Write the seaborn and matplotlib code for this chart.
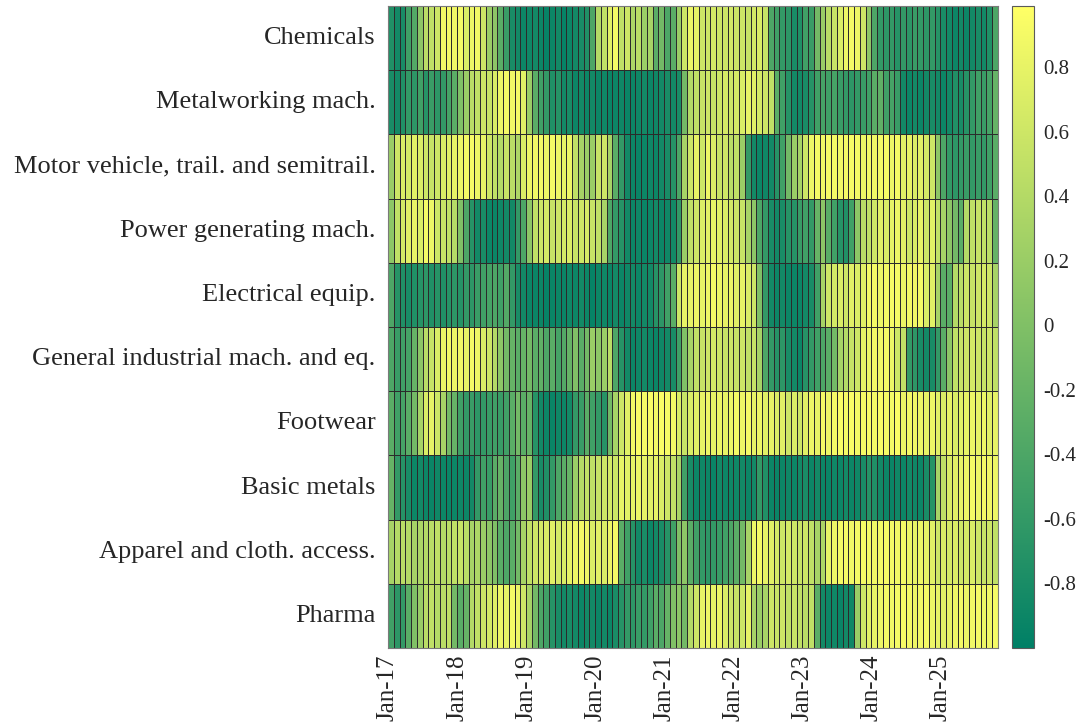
import numpy as np
import pandas as pd
import matplotlib
matplotlib.use("Agg")
import matplotlib.pyplot as plt
import seaborn as sns

# Sectors, top to bottom
sectors = [
    "Chemicals",
    "Metalworking mach.",
    "Motor vehicle, trail. and semitrail.",
    "Power generating mach.",
    "Electrical equip.",
    "General industrial mach. and eq.",
    "Footwear",
    "Basic metals",
    "Apparel and cloth. access.",
    "Pharma",
]

# Monthly values, Jan-2017 .. Oct-2025 (one line per year)
chemicals = [
    -0.75, -0.85, -0.8, -0.5, -0.35, 0.1, 0.45, 0.5, 0.6, 0.9, 0.92, 0.88,
    0.9, 0.7, 0.85, 0.88, 0.6, 0.2, 0.1, -0.3, -0.55, -0.8, -0.85, -0.9,
    -0.88, -0.85, -0.9, -0.95, -0.9, -0.85, -0.95, -0.9, -0.85, -0.8, -0.75, -0.4,
    0.4, 0.5, 0.75, 0.9, 0.5, 0.6, 0.35, 0.45, 0.2, 0.3, -0.3, -0.1,
    -0.4, -0.3, 0.2, 0.6, 0.85, 0.8, 0.6, 0.6, 0.65, 0.6, 0.6, 0.65,
    0.6, 0.6, 0.55, 0.65, 0.7, 0.55, -0.4, -0.5, -0.6, -0.65, -0.8, -0.75,
    -0.5, -0.55, -0.1, 0.2, 0.45, 0.55, 0.7, 0.85, 0.9, 0.85, 0.6, 0.1,
    -0.4, -0.6, -0.65, -0.6, -0.7, -0.6, -0.65, -0.55, -0.6, -0.65, -0.6, -0.7,
    -0.8, -0.85, -0.9, -0.85, -0.9, -0.85, -0.8, -0.85, -0.75, -0.4,
]
metalworking = [
    -0.8, -0.85, -0.75, -0.6, -0.65, -0.5, -0.7, -0.55, -0.65, -0.6, -0.45, -0.3,
    0.0, 0.2, 0.45, 0.5, 0.6, 0.55, 0.7, 0.85, 0.9, 0.88, 0.9, 0.75,
    0.2, -0.3, -0.5, -0.6, -0.75, -0.7, -0.85, -0.8, -0.9, -0.85, -0.9, -0.85,
    -0.9, -0.88, -0.92, -0.9, -0.88, -0.92, -0.9, -0.88, -0.85, -0.9, -0.88, -0.85,
    -0.8, -0.85, -0.8, -0.1, 0.4, 0.5, 0.55, 0.6, 0.55, 0.6, 0.65, 0.6,
    0.65, 0.7, 0.8, 0.75, 0.65, 0.6, 0.5, -0.3, -0.5, -0.7, -0.85, -0.85,
    -0.8, -0.7, -0.5, -0.45, -0.5, -0.45, -0.55, -0.6, -0.65, -0.6, -0.55, -0.5,
    -0.3, -0.25, -0.5, -0.45, -0.55, -0.85, -0.9, -0.85, -0.9, -0.85, -0.8, -0.85,
    -0.9, -0.85, -0.75, -0.8, -0.7, -0.6, -0.5, -0.55, -0.45, -0.2,
]
motor_vehicle = [
    0.2, 0.6, 0.7, 0.65, 0.75, 0.7, 0.6, 0.55, 0.6, 0.7, 0.75, 0.8,
    0.85, 0.9, 0.92, 0.85, 0.8, 0.6, 0.5, 0.4, 0.55, 0.45, 0.35, 0.7,
    0.85, 0.88, 0.9, 0.85, 0.9, 0.85, 0.8, 0.85, 0.5, 0.3, 0.2, 0.2,
    0.55, 0.6, 0.3, -0.3, -0.6, -0.85, -0.9, -0.92, -0.9, -0.88, -0.9, -0.85,
    -0.8, -0.7, -0.4, 0.3, 0.6, 0.8, 0.6, 0.85, 0.7, 0.55, 0.6, 0.45,
    0.5, 0.2, -0.6, -0.85, -0.9, -0.88, -0.85, -0.7, -0.5, -0.1, 0.2, 0.3,
    0.6, 0.85, 0.9, 0.88, 0.92, 0.9, 0.88, 0.9, 0.92, 0.9, 0.85, 0.9,
    0.88, 0.9, 0.92, 0.85, 0.9, 0.75, 0.8, 0.7, 0.75, 0.65, 0.6, 0.1,
    -0.4, -0.6, -0.65, -0.6, -0.55, -0.6, -0.55, -0.6, -0.5, -0.3,
]
power_generating = [
    0.1, 0.5, 0.65, 0.75, 0.8, 0.7, 0.9, 0.85, 0.6, 0.55, 0.5, 0.4,
    0.0, -0.4, -0.7, -0.85, -0.8, -0.9, -0.92, -0.88, -0.85, -0.85, -0.6, -0.4,
    0.1, 0.5, 0.6, 0.65, 0.55, 0.6, 0.65, 0.7, 0.55, 0.6, 0.65, 0.55,
    0.5, 0.3, -0.4, -0.6, -0.7, -0.85, -0.9, -0.88, -0.92, -0.9, -0.85, -0.9,
    -0.88, -0.85, -0.6, 0.2, 0.5, 0.6, 0.7, 0.75, 0.8, 0.75, 0.7, 0.65,
    0.6, 0.55, 0.3, 0.1, -0.4, -0.6, -0.8, -0.85, -0.8, -0.7, -0.7, -0.55,
    -0.5, -0.6, -0.2, 0.1, -0.3, -0.5, -0.7, -0.75, -0.5, 0.1, 0.45, 0.5,
    0.6, 0.75, 0.7, 0.8, 0.85, 0.75, 0.6, 0.7, 0.8, 0.6, 0.75, 0.5,
    0.3, 0.1, -0.1, -0.3, 0.4, 0.5, 0.55, 0.5, 0.45, -0.2,
]
electrical = [
    -0.4, -0.7, -0.75, -0.8, -0.75, -0.7, -0.65, -0.75, -0.7, -0.75, -0.7, -0.65,
    -0.7, -0.6, -0.65, -0.55, -0.5, -0.45, -0.4, -0.5, -0.35, -0.6, -0.8, -0.85,
    -0.9, -0.92, -0.9, -0.95, -0.92, -0.9, -0.92, -0.88, -0.9, -0.85, -0.9, -0.95,
    -0.9, -0.88, -0.92, -0.85, -0.9, -0.88, -0.85, -0.9, -0.85, -0.85, -0.7, -0.65,
    -0.5, -0.3, 0.6, 0.8, 0.8, 0.85, 0.8, 0.85, 0.9, 0.85, 0.8, 0.85,
    0.75, 0.8, 0.7, 0.6, 0.0, -0.6, -0.85, -0.9, -0.85, -0.9, -0.9, -0.9,
    -0.85, -0.8, -0.5, 0.3, 0.6, 0.65, 0.7, 0.6, 0.75, 0.7, 0.75, 0.9,
    0.9, 0.85, 0.9, 0.92, 0.9, 0.85, 0.9, 0.88, 0.9, 0.7, 0.75, 0.3,
    -0.3, -0.3, 0.4, 0.45, 0.6, 0.55, 0.6, 0.65, 0.6, 0.3,
]
general_industrial = [
    -0.4, -0.55, -0.5, -0.45, -0.2, 0.1, 0.45, 0.55, 0.7, 0.85, 0.9, 0.85,
    0.88, 0.8, 0.9, 0.85, 0.7, 0.6, 0.4, 0.1, -0.1, -0.2, -0.3, -0.2,
    -0.1, -0.3, -0.25, -0.4, -0.3, -0.45, -0.35, -0.2, 0.0, -0.3, -0.1, 0.2,
    0.1, 0.2, 0.45, -0.4, -0.7, -0.85, -0.9, -0.88, -0.85, -0.9, -0.92, -0.88,
    -0.85, -0.8, -0.5, 0.0, 0.3, 0.5, 0.55, 0.6, 0.65, 0.6, 0.55, 0.6,
    0.55, 0.6, 0.5, 0.55, 0.3, -0.4, -0.6, -0.7, -0.65, -0.8, -0.85, -0.9,
    -0.7, -0.6, -0.5, -0.4, -0.3, -0.1, 0.3, 0.4, 0.55, 0.6, 0.8, 0.85,
    0.9, 0.88, 0.9, 0.85, 0.6, 0.5, -0.6, -0.65, -0.8, -0.85, -0.8, -0.6,
    -0.3, 0.1, 0.5, 0.55, 0.6, 0.65, 0.6, 0.55, 0.6, 0.5,
]
footwear = [
    -0.3, -0.5, -0.45, -0.3, -0.1, 0.3, 0.7, 0.8, 0.6, 0.3, -0.1, -0.2,
    -0.5, -0.6, -0.55, -0.65, -0.6, -0.55, -0.5, -0.55, -0.5, -0.3, -0.1, -0.3,
    -0.2, -0.7, -0.85, -0.9, -0.92, -0.88, -0.9, -0.85, -0.6, -0.55, -0.3, -0.5,
    -0.6, -0.7, -0.1, 0.3, 0.6, 0.75, 0.9, 0.95, 0.92, 0.95, 0.9, 0.95,
    0.92, 0.9, 0.7, 0.55, 0.7, 0.75, 0.8, 0.85, 0.8, 0.85, 0.8, 0.85,
    0.9, 0.85, 0.9, 0.8, 0.85, 0.75, 0.8, 0.7, 0.75, 0.6, 0.7, 0.6,
    0.75, 0.85, 0.8, 0.9, 0.85, 0.9, 0.95, 0.92, 0.95, 0.9, 0.92, 0.95,
    0.9, 0.95, 0.92, 0.9, 0.95, 0.85, 0.9, 0.88, 0.85, 0.8, 0.85, 0.75,
    0.7, 0.8, 0.7, 0.75, 0.8, 0.85, 0.8, 0.85, 0.75, 0.8,
]
basic_metals = [
    -0.2, -0.6, -0.7, -0.8, -0.9, -0.85, -0.9, -0.92, -0.88, -0.9, -0.92, -0.9,
    -0.88, -0.9, -0.85, -0.6, -0.5, -0.55, -0.3, -0.2, -0.4, -0.5, -0.3, 0.1,
    0.2, -0.6, -0.8, -0.75, -0.6, -0.4, -0.3, -0.2, 0.2, 0.4, 0.5, 0.5,
    0.55, 0.6, 0.65, 0.6, 0.8, 0.75, 0.8, 0.85, 0.8, 0.75, 0.8, 0.7,
    0.6, 0.5, 0.3, -0.5, -0.8, -0.9, -0.88, -0.9, -0.92, -0.85, -0.9, -0.88,
    -0.88, -0.85, -0.9, -0.85, -0.6, -0.75, -0.9, -0.92, -0.9, -0.88, -0.9, -0.85,
    -0.8, -0.9, -0.85, -0.9, -0.92, -0.88, -0.9, -0.85, -0.9, -0.88, -0.8, -0.7,
    -0.75, -0.85, -0.9, -0.92, -0.88, -0.9, -0.85, -0.88, -0.9, -0.8, -0.7, 0.3,
    0.5, 0.7, 0.75, 0.8, 0.85, 0.9, 0.85, 0.9, 0.88, 0.85,
]
apparel = [
    0.3, 0.4, 0.45, 0.4, 0.3, 0.35, 0.4, 0.45, 0.5, 0.4, 0.45, 0.5,
    0.55, 0.45, 0.3, 0.35, 0.2, 0.1, 0.0, -0.3, -0.4, -0.3, -0.1, 0.3,
    0.5, 0.6, 0.65, 0.7, 0.75, 0.65, 0.7, 0.8, 0.85, 0.9, 0.85, 0.7,
    0.75, 0.7, 0.85, 0.9, -0.3, -0.5, -0.7, -0.85, -0.8, -0.9, -0.85, -0.8,
    -0.7, -0.5, 0.0, 0.1, -0.3, -0.5, -0.6, -0.65, -0.6, -0.55, -0.5, -0.4,
    -0.3, -0.1, 0.3, 0.85, 0.9, 0.8, 0.75, 0.65, 0.6, 0.65, 0.6, 0.55,
    0.6, 0.5, 0.3, 0.35, 0.8, 0.85, 0.9, 0.92, 0.88, 0.9, 0.92, 0.9,
    0.88, 0.9, 0.92, 0.9, 0.88, 0.9, 0.85, 0.8, 0.85, 0.8, 0.75, 0.6,
    0.7, 0.65, 0.7, 0.6, 0.65, 0.7, 0.6, 0.55, 0.6, 0.5,
]
pharma = [
    -0.5, -0.65, -0.6, -0.3, 0.0, 0.2, 0.45, 0.5, 0.4, 0.45, 0.5, -0.1,
    -0.3, -0.2, 0.4, 0.5, 0.6, 0.65, 0.75, 0.85, 0.8, 0.9, 0.85, 0.6,
    0.3, -0.1, -0.4, -0.5, -0.7, -0.8, -0.85, -0.8, -0.85, -0.9, -0.85, -0.85,
    -0.9, -0.85, -0.9, -0.8, -0.7, -0.6, -0.65, -0.55, -0.6, -0.5, -0.3, -0.4,
    -0.2, 0.0, 0.1, -0.1, 0.4, 0.6, 0.8, 0.85, 0.8, 0.85, 0.7, 0.6,
    0.55, 0.6, 0.8, 0.3, 0.2, 0.3, 0.6, 0.55, 0.6, 0.5, 0.55, 0.5,
    0.45, 0.5, -0.3, -0.85, -0.9, -0.88, -0.92, -0.85, -0.88, 0.2, 0.6, 0.75,
    0.8, 0.85, 0.9, 0.88, 0.9, 0.92, 0.9, 0.85, 0.88, 0.9, 0.85, 0.8,
    0.75, 0.8, 0.85, 0.9, 0.85, 0.88, 0.9, 0.85, 0.88, 0.9,
]

months = pd.date_range("2017-01-01", periods=len(chemicals), freq="MS")
tick_labels = ["Jan-17", "Jan-18", "Jan-19", "Jan-20", "Jan-21",
               "Jan-22", "Jan-23", "Jan-24", "Jan-25"]
cbar_ticks = [-0.8, -0.6, -0.4, -0.2, 0, 0.2, 0.4, 0.6, 0.8]

sns.set_theme(style="white")
plt.rcParams["font.family"] = ["Liberation Serif", "DejaVu Serif"]
plt.rcParams["axes.unicode_minus"] = False

df = pd.DataFrame(
    [chemicals, metalworking, motor_vehicle, power_generating, electrical,
     general_industrial, footwear, basic_metals, apparel, pharma],
    index=sectors,
    columns=months.strftime("%b-%y"),
)

W, H = 1084, 723
fig = plt.figure(figsize=(W / 100, H / 100), dpi=100)
ax = fig.add_axes([388 / W, 1 - 648 / H, 610 / W, 642 / H])
cax = fig.add_axes([1012 / W, 1 - 648 / H, 22 / W, 642 / H])

sns.heatmap(
    df, ax=ax, cbar_ax=cax, cmap="summer", vmin=-1.0, vmax=0.99,
    linewidths=0.7, linecolor="#2b2b2b",
)

# Year ticks at the first month of each year
tick_pos = [list(df.columns).index(lbl) for lbl in tick_labels]
ax.set_xticks(tick_pos)
ax.set_xticklabels(tick_labels, rotation=90, fontsize=18, color="#262626")
ax.set_yticks(np.arange(len(sectors)) + 0.5)
ax.set_yticklabels(sectors, rotation=0, fontsize=19, color="#262626")
ax.tick_params(axis="both", length=0)
ax.tick_params(axis="x", pad=5)
ax.tick_params(axis="y", pad=9)
for sp in ax.spines.values():
    sp.set_visible(True)
    sp.set_color("#7a7a7a")
    sp.set_linewidth(0.8)

cbar = ax.collections[0].colorbar
cbar.set_ticks(cbar_ticks)
cbar.set_ticklabels([f"{t:g}" for t in cbar_ticks])
cbar.outline.set_visible(True)
cbar.outline.set_linewidth(0.8)
cbar.outline.set_edgecolor("#5a5a5a")
cax.tick_params(direction="in", length=5, width=0.8, color="#333333",
                labelsize=15, labelcolor="#262626", pad=7, right=True)

fig.savefig("out.png", dpi=100)
